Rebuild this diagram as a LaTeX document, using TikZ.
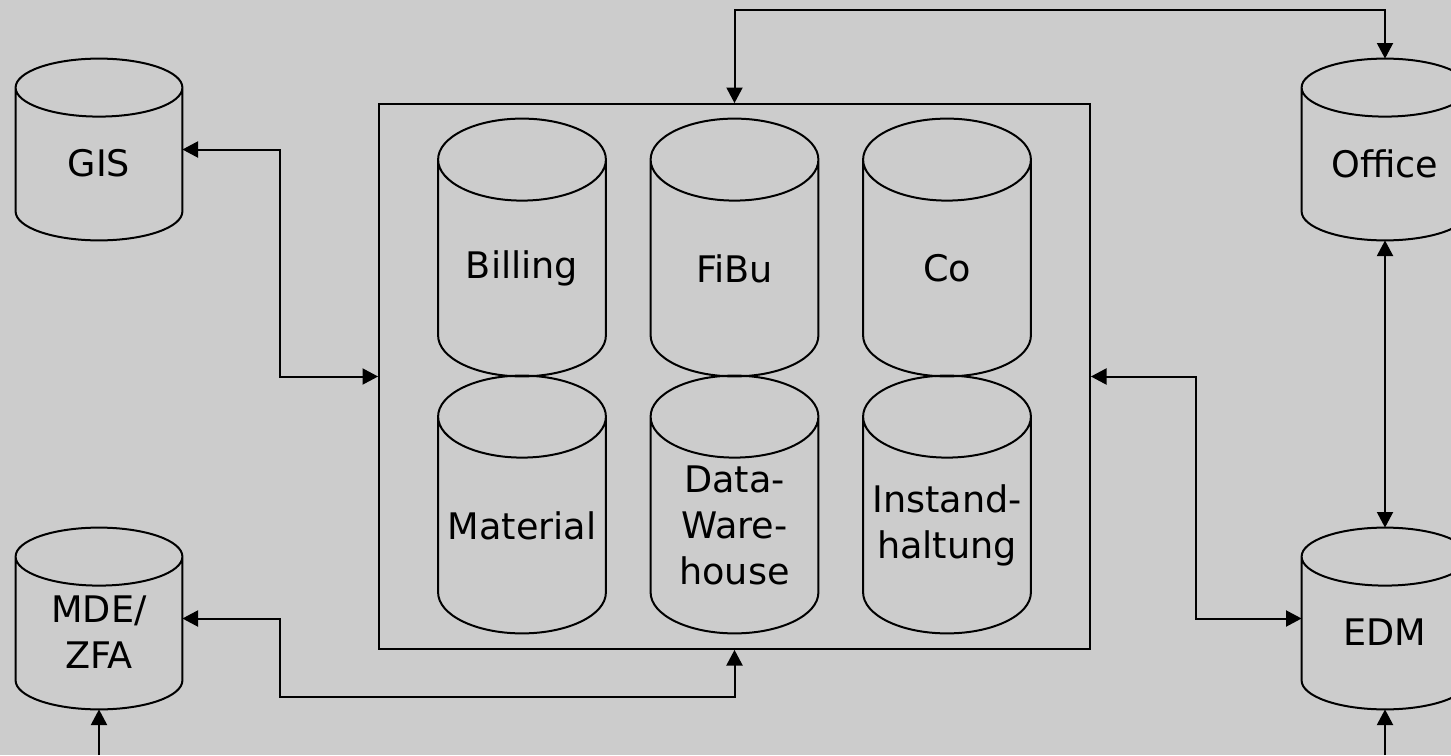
\documentclass[tikz,border=0pt]{standalone}
\usepackage{fontspec}
\setmainfont{DejaVu Sans}
\usepackage{tikz}
\usetikzlibrary{shapes,arrows,arrows.meta,positioning,calc}
\definecolor{bgcol}{HTML}{CCCCCC}
\tikzset{can/.style={rectangle,minimum width=83pt,minimum height=90.5pt,inner sep=0pt}}
\tikzset{drum/.style={rectangle,minimum width=83.5pt,minimum height=128.5pt,inner sep=0pt}}
\tikzset{canlabel/.style={align=center,yshift=-7pt,font=\fontsize{18.3}{23}\selectfont}}
\tikzset{drumlabel/.style={align=center,yshift=-10.5pt,font=\fontsize{18.3}{23}\selectfont}}
\tikzset{frame/.style={rectangle,draw,line width=0.9pt,minimum width=355.5pt,minimum height=272.5pt}}
\tikzset{arrow/.style={draw,line width=1pt}}
% outline of a database can round a node: node name, y radius of the lid
\newcommand{\candraw}[2]{%
  \draw[line width=1pt] let \p1=(#1.north west), \p2=(#1.south east), \n1={(\x2-\x1)/2} in
    (\x1,\y1-#2) -- (\x1,\y2+#2) arc[start angle=180,end angle=360,x radius=\n1,y radius=#2]
    -- (\x2,\y1-#2) arc[start angle=0,end angle=360,x radius=\n1,y radius=#2];
}

\begin{document}
\begin{tikzpicture}[node distance=106.25pt,>={Triangle[length=7.8pt,width=8pt]}]
    \fill[bgcol] (0,0) rectangle (725.5pt,-377.5pt);
    \useasboundingbox (0,0) rectangle (725.5pt,-377.5pt);

    \node[frame] (erp) at (367.25pt,-188.25pt) {};
    \node[drum,above of=erp,node distance=64.5pt,label={[drumlabel]center:FiBu}] (fibu) {};
    \node[drum,left of=fibu,label={[drumlabel]center:Billing}] (billing) {};
    \node[drum,right of=fibu,label={[drumlabel]center:Co}] (co) {};
    \node[drum,below of=fibu,node distance=128.5pt,label={[drumlabel]center:Data-\\Ware-\\house}] (dwh) {};
    \node[drum,left of=dwh,label={[drumlabel]center:Material}] (material) {};
    \node[drum,right of=dwh,label={[drumlabel]center:Instand-\\haltung}] (instand) {};

    \node[can,label={[canlabel]center:GIS}] (gis) at (49.5pt,-74.75pt) {};
    \node[can,below of=gis,node distance=234.5pt,label={[canlabel]center:MDE/\\ZFA}] (mde) {};
    \node[can,label={[canlabel]center:Office}] (office) at (692.5pt,-74.75pt) {};
    \node[can,below of=office,node distance=234.5pt,label={[canlabel]center:EDM}] (edm) {};

    \coordinate (mdein) at (mde.south |- 0,-377.5pt);
    \coordinate (edmin) at (edm.south |- 0,-377.5pt);

    \candraw{billing}{20.5pt}
    \candraw{fibu}{20.5pt}
    \candraw{co}{20.5pt}
    \candraw{material}{20.5pt}
    \candraw{dwh}{20.5pt}
    \candraw{instand}{20.5pt}
    \candraw{gis}{14.5pt}
    \candraw{mde}{14.5pt}
    \candraw{office}{14.5pt}
    \candraw{edm}{14.5pt}

        \path[arrow,<->] (gis.east) -- ++(49pt,0) |- (erp.west);
        \path[arrow,<->] (mde.east) -- ++(49pt,0) |- ([yshift=-23.5pt]erp.south) -- (erp.south);
        \path[arrow,<->] (erp.north) -- ++(0,46.5pt) -| (office.north);
        \path[arrow,<->] (office.south) -- (edm.north);
        \path[arrow,<->] (erp.east) -- ++(52.5pt,0) |- (edm.west);
        \path[arrow,->] (mdein) -- (mde.south);
        \path[arrow,->] (edmin) -- (edm.south);
\end{tikzpicture}
\end{document}
